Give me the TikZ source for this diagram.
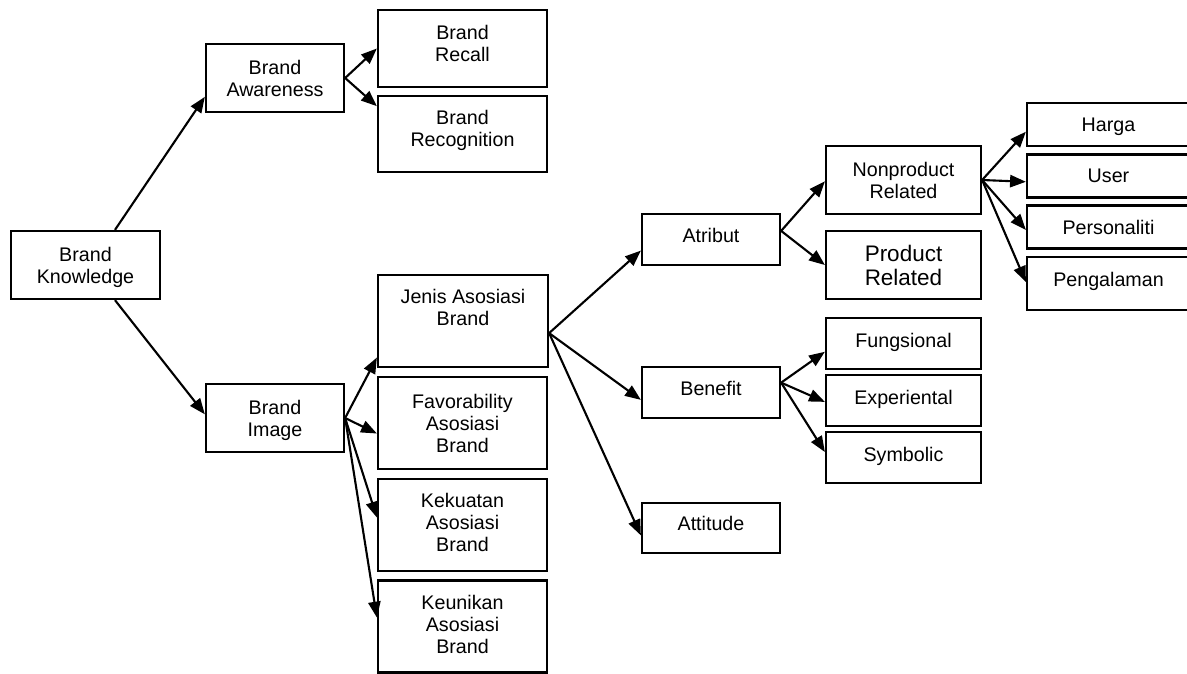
\documentclass[tikz,border=0pt]{standalone}
\usepackage{fontspec}
\setmainfont{Liberation Sans}
\usetikzlibrary{shapes,arrows.meta}

\begin{document}
\begin{tikzpicture}[x=0.02cm,y=-0.02cm,line width=1.2pt,>={Triangle[length=9pt,width=7pt]},
        box/.style={draw, line width=1.3pt, align=center, inner sep=0pt, text depth=0pt, font=\fontsize{11.2}{12.5}\selectfont},
        wbox/.style={box, minimum width=2.76cm, minimum height=1.36cm},
        tbox/.style={box, minimum width=3.38cm, minimum height=1.84cm},
        sbox/.style={box, minimum width=2.76cm, minimum height=1.02cm, text depth=5pt},
        nbox/.style={box, minimum width=3.1cm, minimum height=1.36cm},
        fbox/.style={box, minimum width=3.1cm, minimum height=1.02cm, text depth=3.5pt},
        lbox/.style={box, minimum width=3.26cm, minimum height=0.86cm}]
    \useasboundingbox (0,0) rectangle (1187,673);
        \node[box, minimum width=2.98cm, minimum height=1.36cm] (BK) at (85.5,265) {Brand\\Knowledge};
        \node[wbox] (BA) at (275,78) {Brand\\Awareness};
        \node[wbox] (BI) at (275,418) {Brand\\Image};
        \node[box, minimum width=3.38cm, minimum height=1.54cm, text depth=5.7pt] (BR) at (462.5,48.5) {Brand\\Recall};
        \node[box, minimum width=3.38cm, minimum height=1.52cm, text depth=6.8pt] (BG) at (462.5,134) {Brand\\Recognition};
        \node[tbox, minimum width=3.4cm, text depth=15.3pt] (JA) at (463,321) {Jenis Asosiasi\\Brand};
        \node[tbox] (FA) at (462.5,423) {Favorability\\Asosiasi\\Brand};
        \node[tbox, text depth=2.5pt] (KA) at (462.5,525) {Kekuatan\\Asosiasi\\Brand};
        \node[tbox, text depth=2.5pt] (UA) at (462.5,626.5) {Keunikan\\Asosiasi\\Brand};
        \node[sbox] (AT) at (711,239.5) {Atribut};
        \node[sbox] (BE) at (711,392.5) {Benefit};
        \node[sbox, minimum height=1cm] (AD) at (711,528) {Attitude};
        \node[nbox] (NP) at (903.5,180) {Nonproduct\\Related};
        \node[nbox, font=\fontsize{12.8}{13.6}\selectfont] (PR) at (903.5,265) {Product\\Related};
        \node[fbox] (FU) at (903.5,343.5) {Fungsional};
        \node[fbox] (EX) at (903.5,400.5) {Experiental};
        \node[fbox] (SY) at (903.5,457.5) {Symbolic};
        \node[lbox] (HA) at (1108.5,124.5) {Harga};
        \node[lbox] (US) at (1108.5,176) {User};
        \node[lbox] (PE) at (1108.5,227) {Personaliti};
        \node[lbox, minimum height=1.06cm, text depth=5pt] (PG) at (1108.5,283.5) {Pengalaman};
        \draw[->] (BK.50) -- (BA.195);
        \draw[->] (BK.-50) -- (BI.177);
        \draw[->] (BA.east) -- (BR.west);
        \draw[->] (BA.east) -- (BG.162);
        \draw[->] (BI.east) -- (JA.203);
        \draw[->] (BI.east) -- (FA.187);
        \draw[->] (BI.east) -- (KA.175);
        \draw[->] (BI.east) -- (UA.174);
        \draw[->] (JA.-8) -- (AT.189);
        \draw[->] (JA.-8) -- (BE.186);
        \draw[->] (JA.-8) -- (AD.186);
        \draw[->] (AT.7) -- (NP.181);
        \draw[->] (AT.7) -- (PR.west);
        \draw[->] (BE.8) -- (FU.186);
        \draw[->] (BE.8) -- (EX.181);
        \draw[->] (BE.8) -- (SY.176);
        \draw[->] (NP.east) -- (HA.185);
        \draw[->] (NP.east) -- (US.184);
        \draw[->] (NP.east) -- (PE.182);
        \draw[->] (NP.east) -- (PG.179);
    \end{tikzpicture}
\end{document}
